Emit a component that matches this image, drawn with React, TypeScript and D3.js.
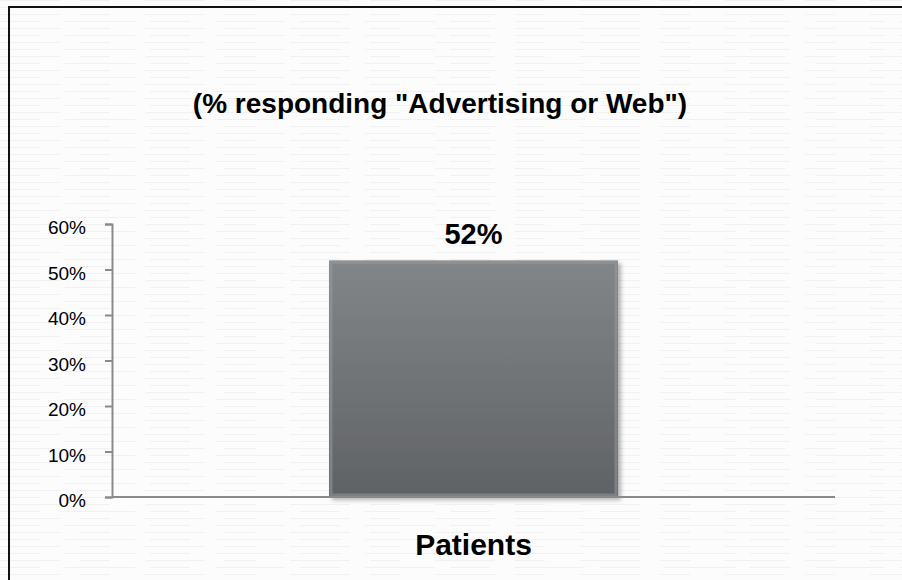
import React, { useEffect, useRef } from 'react';
import * as d3 from 'd3';

const categories = ['Patients'];
const values = [0.52];
const yTicks = [0, 0.1, 0.2, 0.3, 0.4, 0.5, 0.6];
const title = '(% responding "Advertising or Web")';

const App: React.FC = () => {
  const svgRef = useRef<SVGSVGElement>(null);

  useEffect(() => {
    if (!svgRef.current) return;
    const svg = d3.select(svgRef.current);
    svg.selectAll('*').remove();

    const width = 902;
    const height = 580;
    const margin = { top: 224, right: 67, bottom: 83, left: 112 };

    const defs = svg.append('defs');
    const grad = defs.append('linearGradient')
      .attr('id', 'barGrad').attr('x1', 0).attr('y1', 0).attr('x2', 0).attr('y2', 1);
    grad.append('stop').attr('offset', '0%').attr('stop-color', '#838689');
    grad.append('stop').attr('offset', '100%').attr('stop-color', '#5f6265');

    const shadow = defs.append('filter').attr('id', 'shadow')
      .attr('x', '-10%').attr('y', '-10%').attr('width', '130%').attr('height', '130%');
    shadow.append('feDropShadow')
      .attr('dx', 3).attr('dy', 3).attr('stdDeviation', 2)
      .attr('flood-color', '#000').attr('flood-opacity', 0.3);

    // paper background with faint streaks
    svg.append('rect').attr('width', width).attr('height', height).attr('fill', '#fcfcfc');
    const streaks = d3.range(0, height, 7);
    svg.append('g')
      .selectAll('line')
      .data(streaks)
      .join('line')
      .attr('x1', 0)
      .attr('x2', width)
      .attr('y1', d => d + 0.5)
      .attr('y2', d => d + 0.5)
      .attr('stroke', '#f1f1f1')
      .attr('stroke-width', 1)
      .attr('stroke-dasharray', (_, i) => (i % 2 ? '40 25 70 15' : '60 20 30 35'));

    // frame
    svg.append('rect')
      .attr('x', 9).attr('y', 7)
      .attr('width', width).attr('height', height)
      .attr('fill', 'none').attr('stroke', '#111').attr('stroke-width', 2);

    const x = d3.scaleBand<string>()
      .domain(categories)
      .range([margin.left, width - margin.right])
      .padding(0.429);

    const y = d3.scaleLinear()
      .domain([0, 0.6])
      .range([height - margin.bottom, margin.top]);

    // title
    svg.append('text')
      .attr('x', 440).attr('y', 113)
      .attr('text-anchor', 'middle')
      .attr('font-family', 'Liberation Sans, Arial, sans-serif')
      .attr('font-weight', 'bold')
      .attr('font-size', 28)
      .attr('fill', '#000')
      .text(title);

    // y axis
    const yAxis = svg.append('g')
      .attr('transform', `translate(${margin.left},0)`)
      .call(d3.axisLeft(y).tickValues(yTicks).tickFormat(d3.format('.0%')).tickSize(7).tickPadding(19));
    yAxis.select('.domain').attr('stroke', '#8a8a8a').attr('stroke-width', 2);
    yAxis.selectAll('.tick line').attr('stroke', '#8a8a8a').attr('stroke-width', 2);
    yAxis.selectAll('.tick text')
      .attr('font-family', 'Liberation Sans, Arial, sans-serif')
      .attr('font-size', 19)
      .attr('dy', '0.5em')
      .attr('fill', '#000');

    // bars
    const data = categories.map((c, i) => ({ c, v: values[i] }));
    const bars = svg.append('g');
    bars.selectAll('rect.bar')
      .data(data)
      .join('rect')
      .attr('class', 'bar')
      .attr('x', d => x(d.c)!)
      .attr('y', d => y(d.v))
      .attr('width', x.bandwidth())
      .attr('height', d => y(0) - y(d.v))
      .attr('fill', 'url(#barGrad)')
      .attr('filter', 'url(#shadow)');
    // bevel highlight
    bars.selectAll('rect.bevel')
      .data(data)
      .join('rect')
      .attr('class', 'bevel')
      .attr('x', d => x(d.c)! + 2)
      .attr('y', d => y(d.v) + 2)
      .attr('width', x.bandwidth() - 4)
      .attr('height', d => y(0) - y(d.v) - 4)
      .attr('fill', 'none')
      .attr('stroke', '#9a9da0')
      .attr('stroke-opacity', 0.5)
      .attr('stroke-width', 3);

    // baseline
    svg.append('line')
      .attr('x1', margin.left).attr('x2', width - margin.right)
      .attr('y1', y(0)).attr('y2', y(0))
      .attr('stroke', '#8a8a8a').attr('stroke-width', 2);

    // value labels
    svg.append('g')
      .selectAll('text')
      .data(data)
      .join('text')
      .attr('x', d => x(d.c)! + x.bandwidth() / 2)
      .attr('y', d => y(d.v) - 16)
      .attr('text-anchor', 'middle')
      .attr('font-family', 'Liberation Sans, Arial, sans-serif')
      .attr('font-weight', 'bold')
      .attr('font-size', 29)
      .attr('fill', '#000')
      .text(d => d3.format('.0%')(d.v));

    // category labels
    svg.append('g')
      .selectAll('text')
      .data(categories)
      .join('text')
      .attr('x', d => x(d)! + x.bandwidth() / 2)
      .attr('y', 555)
      .attr('text-anchor', 'middle')
      .attr('font-family', 'Liberation Sans, Arial, sans-serif')
      .attr('font-weight', 'bold')
      .attr('font-size', 30)
      .attr('fill', '#000')
      .text(d => d);
  }, []);

  return (
    <svg
      ref={svgRef}
      width={902}
      height={580}
      style={{ position: 'absolute', left: 0, top: 0, display: 'block' }}
    />
  );
};

export default App;
